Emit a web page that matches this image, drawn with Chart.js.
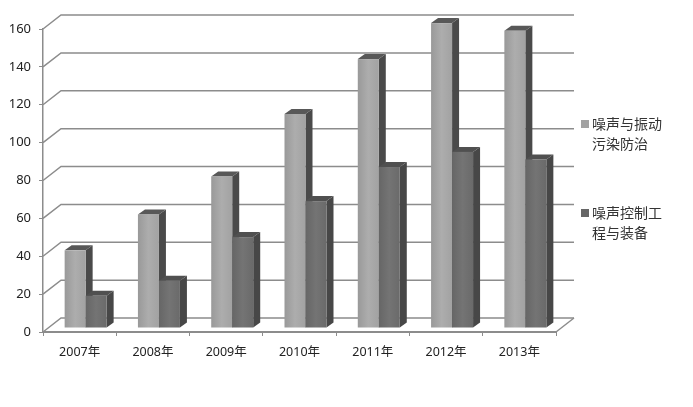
<!DOCTYPE html>
<html>
<head>
<meta charset="utf-8">
<style>
  html, body { margin: 0; padding: 0; background: #fff; }
  canvas { display: block; }
</style>
<script src="https://cdn.jsdelivr.net/npm/chart.js@4"></script>
</head>
<body>
<canvas id="chart" width="693" height="407"></canvas>
<script>
var years = ["2007年", "2008年", "2009年", "2010年", "2011年", "2012年", "2013年"];
var vibration = [41, 60, 80, 113, 142, 161, 157];
var control = [17, 25, 48, 67, 85, 93, 89];
var vibrationLegend = ["噪声与振动", "污染防治"];
var controlLegend = ["噪声控制工", "程与装备"];

var FONT = '"Noto Sans", "Noto Sans CJK SC", sans-serif';
var CJK = '"Noto Sans CJK SC", sans-serif';
var GRID = "#8c8c8c";

// wall depth and bar depth of the fake 3d look
var wallX = 18, wallY = -14;
var barX = 7, barY = -5;
var shiftX = 6, shiftY = -4;

// face colours per dataset: left, middle, right of front, then side and top
var faces = [
  { front: ["#999999", "#adadad", "#a2a2a2"], side: "#4a4a4a", top: "#585858" },
  { front: ["#666666", "#747474", "#6a6a6a"], side: "#474747", top: "#505050" }
];

function paintBars(ctx, meta, f) {
  meta.data.forEach(function (bar) {
    var p = bar.getProps(["x", "y", "base", "width"], true);
    var l = p.x - p.width / 2, r = p.x + p.width / 2;
    ctx.fillStyle = f.side;
    ctx.beginPath();
    ctx.moveTo(r, p.y);
    ctx.lineTo(r + barX, p.y + barY);
    ctx.lineTo(r + barX, p.base + barY);
    ctx.lineTo(r, p.base);
    ctx.closePath();
    ctx.fill();
    ctx.fillStyle = f.top;
    ctx.beginPath();
    ctx.moveTo(l, p.y);
    ctx.lineTo(l + barX, p.y + barY);
    ctx.lineTo(r + barX, p.y + barY);
    ctx.lineTo(r, p.y);
    ctx.closePath();
    ctx.fill();
    var g = ctx.createLinearGradient(l, 0, r, 0);
    g.addColorStop(0, f.front[0]);
    g.addColorStop(0.5, f.front[1]);
    g.addColorStop(1, f.front[2]);
    ctx.fillStyle = g;
    ctx.fillRect(l, p.y, p.width, p.base - p.y);
  });
}

var wallPlugin = {
  id: "wall",
  beforeDatasetsDraw: function (chart) {
    var ctx = chart.ctx, y = chart.scales.y, area = chart.chartArea;
    ctx.save();
    ctx.strokeStyle = GRID;
    ctx.lineWidth = 1.5;
    y.ticks.forEach(function (t) {
      var py = y.getPixelForValue(t.value);
      ctx.beginPath();
      ctx.moveTo(area.left, py);
      ctx.lineTo(area.left + wallX, py + wallY);
      ctx.lineTo(area.right + wallX, py + wallY);
      ctx.stroke();
    });
    // right edge of the floor
    ctx.beginPath();
    ctx.moveTo(area.right, area.bottom);
    ctx.lineTo(area.right + wallX, area.bottom + wallY);
    ctx.stroke();
    ctx.restore();
  },
  // left bars first so the right bars sit in front of their side faces
  afterDatasetsDraw: function (chart) {
    var ctx = chart.ctx;
    ctx.save();
    ctx.translate(shiftX, shiftY);
    paintBars(ctx, chart.getDatasetMeta(0), faces[0]);
    paintBars(ctx, chart.getDatasetMeta(1), faces[1]);
    ctx.restore();
  }
};

var legendPlugin = {
  id: "sideLegend",
  afterDraw: function (chart) {
    var ctx = chart.ctx;
    var rows = [
      { lines: vibrationLegend, box: "#a2a2a2", y: 124 },
      { lines: controlLegend, box: "#666666", y: 213 }
    ];
    ctx.save();
    ctx.font = "14px " + CJK;
    ctx.textBaseline = "middle";
    ctx.textAlign = "left";
    rows.forEach(function (row) {
      ctx.fillStyle = row.box;
      ctx.fillRect(581, row.y - 4, 8, 8);
      ctx.fillStyle = "#333333";
      row.lines.forEach(function (line, i) {
        ctx.fillText(line, 592, row.y + i * 19.5);
      });
    });
    ctx.restore();
  }
};

new Chart(document.getElementById("chart"), {
  type: "bar",
  data: {
    labels: years,
    datasets: [
      // native bars stay transparent, paintBars draws the 3d faces from their elements
      { label: vibrationLegend.join(""), data: vibration, backgroundColor: "rgba(0,0,0,0)", clip: false },
      { label: controlLegend.join(""), data: control, backgroundColor: "rgba(0,0,0,0)", clip: false }
    ]
  },
  options: {
    responsive: false,
    animation: false,
    categoryPercentage: 0.573,
    barPercentage: 1,
    layout: { padding: { top: 29, right: 137, left: 0, bottom: 0 } },
    plugins: { legend: { display: false }, tooltip: { enabled: false } },
    scales: {
      x: {
        afterFit: function (scale) { scale.height = 75; },
        border: { color: GRID, width: 2 },
        grid: { drawOnChartArea: false, color: GRID, tickLength: 4 },
        ticks: {
          color: "#222222",
          font: { family: FONT, size: 12.5 },
          padding: 9,
          autoSkip: false,
          maxRotation: 0
        }
      },
      y: {
        min: 0,
        max: 160,
        afterFit: function (scale) { scale.width = 43; },
        border: { color: GRID, width: 1.5 },
        grid: { drawOnChartArea: false, color: GRID, tickLength: 4 },
        ticks: {
          stepSize: 20,
          color: "#222222",
          font: { family: FONT, size: 13 },
          padding: 8
        }
      }
    }
  },
  plugins: [wallPlugin, legendPlugin]
});
</script>
</body>
</html>
